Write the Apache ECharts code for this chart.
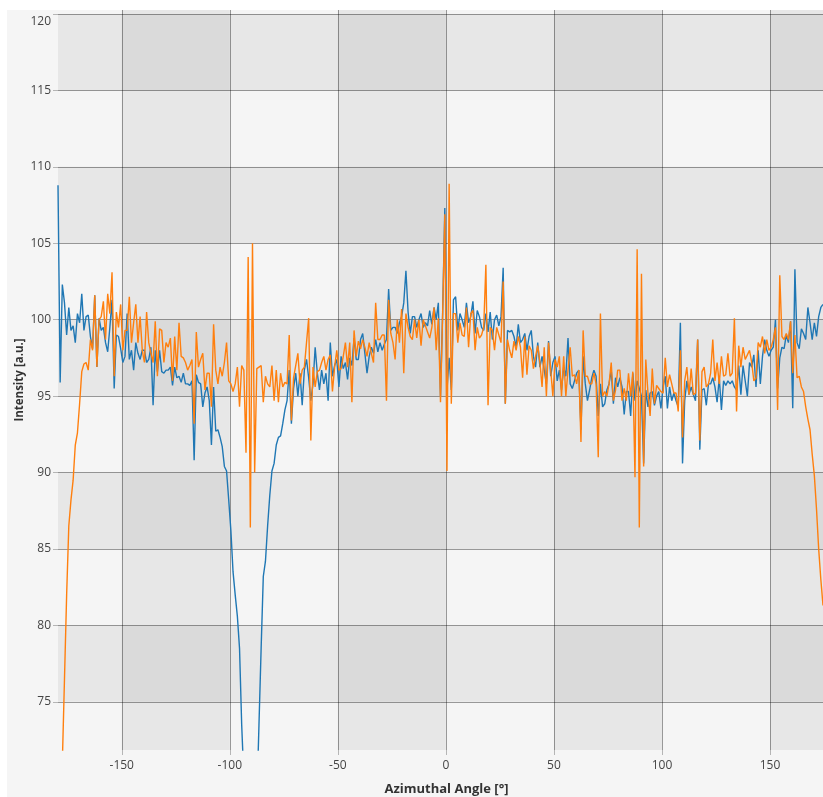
<!DOCTYPE html>
<html>
<head>
<meta charset="utf-8">
<script src="https://cdn.jsdelivr.net/npm/echarts@6/dist/echarts.min.js"></script>
<style>
  html, body { margin: 0; padding: 0; background: #ffffff; }
  #chart { position: absolute; left: 7px; top: 10px; width: 816px; height: 787px; background: #f5f5f5; }
</style>
</head>
<body>
<div id="chart"></div>
<script>
// Azimuthal intensity profiles, sampled every degree from -179.5° to 174.5°
const angleStart = -179.5;
const angleStep = 1;

const blueIntensity = [
  108.8, 95.9, 102.3, 101.1, 99.0, 100.8, 99.3, 99.6, 98.5, 100.4,
  99.8, 101.7, 99.3, 100.2, 100.3, 98.9, 98.1, 101.6, 96.9, 100.1,
  99.3, 99.5, 98.5, 97.9, 99.5, 101.3, 95.5, 99.0, 98.9, 98.1,
  97.2, 97.6, 100.4, 97.4, 98.0, 96.7, 98.5, 97.8, 97.4, 98.0,
  98.0, 97.2, 97.4, 98.2, 94.4, 98.0, 96.6, 98.0, 96.6, 96.5,
  96.7, 96.7, 96.9, 95.7, 96.9, 96.2, 96.3, 95.9, 96.5, 95.8,
  95.8, 95.7, 96.0, 90.8, 96.4, 95.9, 95.8, 94.3, 95.2, 95.6,
  94.7, 91.8, 95.6, 92.7, 92.8, 92.3, 91.7, 90.4, 90.1, 88.2,
  86.2, 83.5, 82.0, 80.6, 78.5, 73.5, 70.0, 66.0, 63.0, 61.0,
  61.5, 64.0, 68.5, 73.5, 78.5, 83.2, 84.2, 86.5, 88.5, 90.1,
  90.6, 91.8, 92.3, 92.4, 93.2, 94.1, 94.7, 96.7, 93.2, 95.5,
  96.5, 95.0, 96.5, 94.4, 96.7, 97.4, 96.2, 94.7, 95.8, 98.2,
  96.5, 95.4, 96.7, 95.8, 96.5, 94.7, 98.5, 96.3, 97.0, 97.4,
  95.6, 97.6, 96.8, 97.2, 96.1, 97.5, 97.0, 98.8, 97.4, 97.4,
  98.7, 99.1, 97.8, 96.5, 97.6, 98.2, 97.8, 98.7, 97.9, 98.5,
  98.0, 98.4, 98.7, 102.0, 99.3, 99.5, 99.5, 99.1, 99.8, 100.2,
  101.1, 103.2, 100.5, 99.1, 100.2, 100.2, 99.5, 100.0, 100.4, 99.5,
  99.8, 99.6, 100.6, 99.7, 100.8, 100.0, 101.1, 95.0, 100.5, 107.3,
  95.4, 97.5, 95.4, 101.3, 101.5, 99.3, 100.4, 100.0, 99.5, 101.1,
  99.8, 100.2, 101.2, 99.1, 100.6, 100.2, 99.5, 99.3, 100.4, 99.2,
  100.5, 98.7, 100.0, 100.3, 99.6, 100.2, 103.4, 94.5, 99.3, 99.2,
  99.3, 98.9, 98.2, 99.7, 98.5, 98.7, 99.1, 98.0, 98.9, 99.3,
  97.6, 96.9, 98.5, 96.9, 97.6, 96.7, 95.8, 98.6, 96.3, 97.2,
  97.6, 96.0, 96.7, 95.4, 96.9, 96.3, 98.8, 95.8, 95.5, 96.0,
  96.5, 96.7, 92.8, 97.6, 95.8, 94.7, 95.4, 96.2, 96.7, 96.3,
  93.7, 95.8, 94.3, 94.5, 95.4, 95.8, 96.7, 94.5, 96.2, 95.6,
  96.2, 95.6, 93.8, 95.3, 95.3, 93.7, 96.5, 94.7, 96.0, 95.5,
  95.0, 90.6, 95.4, 94.3, 95.2, 95.3, 94.4, 95.0, 95.3, 94.2,
  95.6, 96.3, 94.2, 95.6, 94.7, 95.2, 94.7, 94.3, 99.8, 90.6,
  94.7, 96.0, 95.1, 95.6, 95.1, 94.7, 98.7, 91.5, 95.4, 95.5,
  94.4, 95.8, 95.8, 96.2, 95.6, 94.6, 96.2, 94.1, 96.0, 95.7,
  96.0, 95.8, 96.0, 95.6, 95.4, 97.0, 95.1, 97.0, 96.0, 95.0,
  97.2, 96.9, 97.7, 95.6, 98.0, 95.8, 97.6, 98.7, 98.0, 97.6,
  98.0, 98.2, 100.0, 95.5, 97.5, 98.2, 98.1, 99.0, 98.5, 99.9,
  94.2, 103.3, 98.5, 98.1, 99.4, 99.1, 98.7, 100.8, 99.8, 98.7,
  99.8, 98.9, 100.2, 100.8, 101.0
];

const orangeIntensity = [
  55.0, 64.0, 71.0, 76.5, 82.0, 86.5, 88.2, 89.5, 91.8, 92.6,
  94.5, 96.6, 97.1, 97.2, 96.7, 98.7, 98.0, 101.6, 96.9, 100.0,
  100.2, 101.2, 98.7, 101.7, 100.4, 103.1, 96.3, 100.5, 99.5, 101.0,
  98.0, 99.3, 99.3, 101.5, 98.5, 99.8, 101.0, 98.5, 100.2, 98.0,
  97.2, 100.5, 98.5, 97.8, 97.2, 99.9, 96.3, 99.4, 99.3, 97.2,
  98.5, 98.2, 98.8, 96.0, 98.9, 96.7, 99.8, 97.6, 97.5, 97.2,
  96.7, 97.0, 97.4, 93.2, 99.2, 96.9, 97.4, 97.8, 95.4, 96.5,
  96.5, 94.3, 99.7, 96.7, 95.8, 96.9, 96.3, 97.2, 98.5, 96.0,
  95.8, 95.3, 95.8, 96.9, 94.3, 97.0, 96.7, 91.3, 104.1, 86.4,
  105.0, 90.0, 96.8, 96.9, 97.0, 94.6, 96.3, 95.8, 95.6, 97.0,
  94.7, 96.7, 94.6, 96.5, 95.6, 95.9, 95.8, 99.0, 93.4, 96.2,
  97.0, 97.8, 95.8, 96.7, 96.9, 98.5, 100.1, 92.1, 96.9, 95.6,
  96.6, 96.7, 97.2, 97.6, 96.7, 97.4, 97.7, 95.3, 96.9, 98.0,
  96.7, 96.8, 97.6, 98.5, 96.9, 98.5, 94.6, 99.3, 97.6, 98.6,
  98.1, 98.7, 98.2, 97.6, 98.5, 97.8, 97.2, 101.1, 98.7, 98.7,
  99.0, 99.0, 94.7, 101.3, 99.1, 98.5, 97.4, 100.0, 98.5, 100.7,
  96.5, 100.4, 99.5, 98.9, 98.7, 100.0, 98.8, 100.0, 98.3, 100.0,
  99.6, 99.2, 98.8, 99.5, 100.8, 98.0, 100.1, 94.6, 100.4, 106.9,
  90.1, 108.9, 94.5, 100.4, 100.4, 98.5, 99.8, 99.0, 98.9, 100.8,
  98.2, 100.4, 100.6, 98.0, 99.5, 98.8, 99.0, 99.5, 103.6, 94.4,
  99.5, 99.3, 98.0, 99.5, 99.0, 98.5, 102.5, 94.5, 98.7, 98.0,
  97.5, 98.6, 98.0, 98.9, 98.2, 96.2, 98.9, 96.4, 98.3, 98.0,
  96.8, 97.6, 98.3, 97.2, 95.6, 98.2, 95.0, 98.5, 96.7, 95.0,
  97.4, 96.9, 97.6, 95.0, 97.6, 95.0, 96.7, 98.2, 96.3, 96.4,
  95.8, 96.7, 92.0, 99.3, 96.3, 96.3, 95.8, 95.8, 96.5, 95.8,
  91.0, 100.4, 95.0, 95.3, 95.0, 95.8, 97.2, 94.7, 95.4, 96.7,
  96.7, 94.7, 95.5, 94.7, 96.5, 95.0, 96.6, 89.7, 104.6, 86.4,
  103.0, 90.4, 97.4, 95.2, 93.7, 96.8, 94.5, 95.7, 95.5, 95.3,
  95.2, 97.5, 95.6, 96.4, 95.8, 95.2, 95.2, 94.0, 98.0, 92.3,
  96.0, 96.9, 95.1, 96.8, 95.1, 95.2, 98.7, 92.1, 96.6, 96.9,
  95.6, 95.8, 96.5, 98.7, 96.0, 97.2, 95.8, 97.6, 96.3, 96.4,
  97.8, 96.3, 96.5, 100.1, 94.0, 98.3, 96.9, 98.2, 97.4, 97.7,
  98.0, 97.2, 96.0, 96.2, 98.5, 98.2, 98.9, 97.8, 98.7, 98.0,
  98.2, 98.7, 99.5, 94.1, 102.9, 98.9, 98.7, 99.1, 98.7, 99.9,
  96.5, 99.0, 96.2, 96.3, 95.6, 95.3, 94.3, 93.5, 92.8, 91.2,
  89.8, 87.6, 85.0, 83.0, 81.3
];

// Axis extents and tick marks
const xRange = [-179.5, 174.5];
const yRange = [71.85, 120.26];
const xTicks = [-150, -100, -50, 0, 50, 100, 150];
const yTicks = [75, 80, 85, 90, 95, 100, 105, 110, 115, 120];

const toPairs = values => values.map((v, i) => [angleStart + i * angleStep, v]);

const labelFont = { fontFamily: 'Open Sans', fontSize: 12, color: '#444' };
const gridLine = { color: 'rgba(0,0,0,0.38)', width: 1 };
const bandTint = 'rgba(0,0,0,0.053)';

const chart = echarts.init(document.getElementById('chart'));
chart.setOption({
  animation: false,
  backgroundColor: '#f5f5f5',
  grid: { left: 51, right: 0, top: 0, bottom: 47, containLabel: false, outerBoundsMode: 'none' },
  xAxis: {
    type: 'value',
    min: xRange[0],
    max: xRange[1],
    minInterval: 50,
    maxInterval: 50,
    name: 'Azimuthal Angle [°]',
    nameLocation: 'middle',
    nameGap: 33,
    nameMoveOverlap: false,
    nameTextStyle: {
      fontFamily: 'Open Sans', fontSize: 13, fontWeight: 'bold', color: '#333',
      padding: [0, 0, 0, 12]
    },
    axisLine: { show: false, onZero: false },
    axisTick: { show: true, length: 5, customValues: xTicks, lineStyle: { color: '#b5b5b5' } },
    axisLabel: Object.assign({ customValues: xTicks, margin: 10 }, labelFont),
    splitLine: { show: true, lineStyle: gridLine },
    // shaded columns: -150..-100, -50..0, 50..100 (the 150..end column is added below)
    splitArea: { show: true, areaStyle: { color: [bandTint, 'rgba(0,0,0,0)'] } }
  },
  yAxis: {
    type: 'value',
    min: yRange[0],
    max: yRange[1],
    minInterval: 5,
    maxInterval: 5,
    name: 'Intensity [a.u.]',
    nameLocation: 'middle',
    nameGap: 32,
    nameMoveOverlap: false,
    nameTextStyle: { fontFamily: 'Open Sans', fontSize: 11.5, fontWeight: 'bold', color: '#333' },
    axisLine: { show: false, onZero: false },
    axisTick: { show: true, length: 5, customValues: yTicks, lineStyle: { color: '#b5b5b5' } },
    axisLabel: Object.assign({
      customValues: yTicks,
      margin: 7,
      // the top label is nudged down so it stays inside the chart box
      formatter: v => (v === yTicks[yTicks.length - 1] ? '{edge|' + v + '}' : String(v)),
      rich: {
        edge: { fontFamily: 'Open Sans', fontSize: 12, color: '#444', padding: [16, 0, 0, 0] }
      }
    }, labelFont),
    splitLine: { show: true, lineStyle: gridLine },
    splitArea: { show: true, areaStyle: { color: [bandTint, 'rgba(0,0,0,0)'] } }
  },
  series: [
    {
      name: 'profile A',
      type: 'line',
      data: toPairs(blueIntensity),
      showSymbol: false,
      clip: true,
      lineStyle: { color: '#1f77b4', width: 1.4 },
      itemStyle: { color: '#1f77b4' },
      markArea: {
        silent: true,
        itemStyle: { color: bandTint },
        data: [[{ xAxis: 150 }, { xAxis: xRange[1] }]]
      }
    },
    {
      name: 'profile B',
      type: 'line',
      data: toPairs(orangeIntensity),
      showSymbol: false,
      clip: true,
      lineStyle: { color: '#ff7f0e', width: 1.4 },
      itemStyle: { color: '#ff7f0e' }
    }
  ]
});
</script>
</body>
</html>
